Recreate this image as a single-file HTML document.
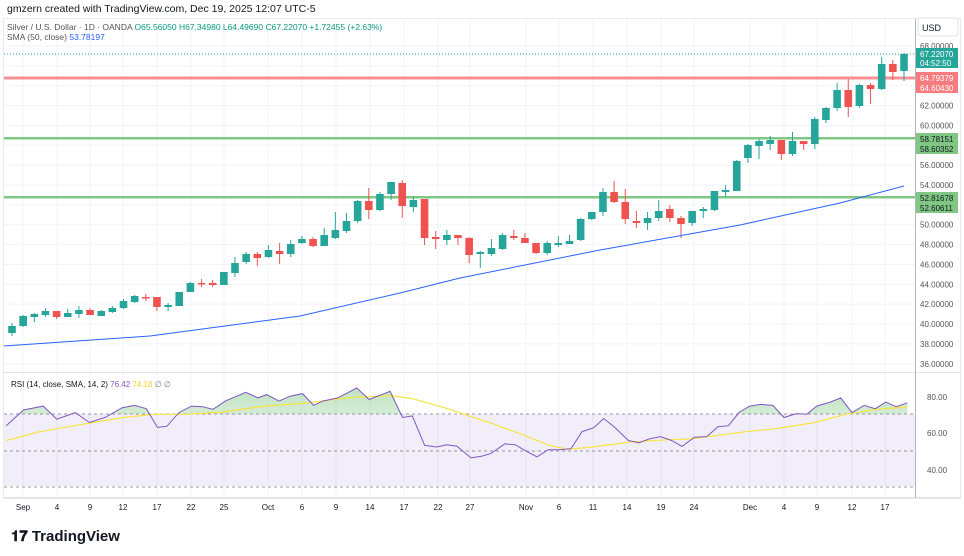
<!DOCTYPE html>
<html><head><meta charset="utf-8">
<style>
body{margin:0;background:#fff;width:964px;height:556px;overflow:hidden;font-family:"Liberation Sans",sans-serif;}
svg{position:absolute;left:0;top:0}
.t{font-family:"Liberation Sans",sans-serif}
</style></head><body>
<svg id="s" width="964" height="556" viewBox="0 0 964 556" xmlns="http://www.w3.org/2000/svg">
<rect x="0" y="0" width="964" height="556" fill="#fff"/>
<text x="7" y="12" font-size="10.5" fill="#131722" class="t">gmzern created with TradingView.com, Dec 19, 2025 12:07 UTC-5</text>
<rect x="3.5" y="18.5" width="957" height="480" fill="none" stroke="#e8eaef"/>
<g id="grid"></g>
<rect x="4" y="414" width="911" height="72" fill="#7e57c2" fill-opacity="0.1"/>
<g stroke="#9598a1" stroke-dasharray="3,3" stroke-width="1">
<line x1="4" x2="915" y1="414" y2="414"/><line x1="4" x2="915" y1="451" y2="451"/><line x1="4" x2="915" y1="487" y2="487"/>
</g>
<line x1="4" x2="961" y1="372.5" y2="372.5" stroke="#e0e3eb"/>
<line x1="4" x2="961" y1="497.5" y2="497.5" stroke="#e0e3eb"/>
<line x1="915.5" x2="915.5" y1="19" y2="498" stroke="#b2b5be"/>
<line x1="4" x2="915" y1="54" y2="54" stroke="#26a69a" stroke-dasharray="1,2"/>
<rect x="4" y="76.5" width="911" height="3" fill="#f77c80" fill-opacity="0.85"/>
<rect x="4" y="137" width="911" height="2.5" fill="#81c784"/>
<rect x="4" y="196" width="911" height="2.5" fill="#81c784"/>
<g id="c"></g>
<defs>
<linearGradient id="gg" x1="0" y1="0" x2="0" y2="1"><stop offset="0" stop-color="#4caf50" stop-opacity="0.35"/><stop offset="1" stop-color="#4caf50" stop-opacity="0.05"/></linearGradient>
<clipPath id="cp"><rect x="0" y="370" width="915" height="44"/></clipPath>
</defs>
<g id="r"></g>
<text x="11" y="387" font-size="8" fill="#131722" class="t">RSI (14, close, SMA, 14, 2) <tspan fill="#7e57c2">76.42</tspan> <tspan fill="#f2d41a">74.18</tspan> <tspan fill="#787b86">∅ ∅</tspan></text>
<text x="7" y="30" font-size="8.5" fill="#555" class="t">Silver / U.S. Dollar · 1D · OANDA <tspan fill="#089981">O65.56050 H67.34980 L64.49690 C67.22070 +1.72455 (+2.63%)</tspan></text>
<text x="7" y="40" font-size="8.5" fill="#555" class="t">SMA (50, close) <tspan fill="#2962ff">53.78197</tspan></text>
<rect x="918" y="18" width="40" height="18" rx="3" fill="#fff" stroke="#e0e3eb"/>
<text x="922" y="31" font-size="9" fill="#131722" class="t">USD</text>
<g id="ax" font-size="8" fill="#555" class="t"></g>
<rect x="916" y="48" width="42" height="20" fill="#26a69a"/>
<text x="920" y="57" font-size="8" fill="#fff" class="t">67.22070</text>
<text x="920" y="66" font-size="8" fill="#fff" class="t">04:52:50</text>
<rect x="916" y="72" width="42" height="21" fill="#f77c80"/>
<text x="920" y="81" font-size="8" fill="#fff" class="t">64.79379</text>
<text x="920" y="91" font-size="8" fill="#fff" class="t">64.60430</text>
<rect x="916" y="133" width="42" height="21" fill="#81c784"/>
<text x="920" y="142" font-size="8" fill="#131722" class="t">58.78151</text>
<text x="920" y="152" font-size="8" fill="#131722" class="t">58.60352</text>
<rect x="916" y="192" width="42" height="21" fill="#81c784"/>
<text x="920" y="201" font-size="8" fill="#131722" class="t">52.81678</text>
<text x="920" y="211" font-size="8" fill="#131722" class="t">52.60611</text>
<text x="927" y="400" font-size="8" fill="#555" class="t">80.00</text>
<text x="927" y="436" font-size="8" fill="#555" class="t">60.00</text>
<text x="927" y="473" font-size="8" fill="#555" class="t">40.00</text>
<g id="dl" font-size="8" fill="#131722" class="t" text-anchor="middle"></g>
<text x="11" y="541" font-size="15" font-weight="bold" fill="#131722" class="t">𝟏𝟕 TradingView</text>
</svg>
<script>
const NS="http://www.w3.org/2000/svg";
function el(p,t,a){const e=document.createElementNS(NS,t);for(const k in a)e.setAttribute(k,a[k]);p.appendChild(e);return e;}
const s=document.getElementById('s');
const grid=document.getElementById('grid'),ax=document.getElementById('ax');
const yp=p=>46+(68-p)*9.93;
for(let p=36;p<=68;p+=2){const y=yp(p);el(grid,'line',{x1:4,x2:915,y1:y,y2:y,stroke:'#f0f3fa'});
 if([66,64,58,52].indexOf(p)<0){const t=el(ax,'text',{x:920,y:y+3});t.textContent=p.toFixed(5);}}
const dates=[["Sep",23],["4",57],["9",90],["12",123],["17",157],["22",191],["25",224],["Oct",268],["6",302],["9",336],["14",370],["17",404],["22",438],["27",470],["Nov",526],["6",559],["11",593],["14",627],["19",661],["24",694],["Dec",750],["4",784],["9",817],["12",852],["17",885]];
const dl=document.getElementById('dl');
dates.forEach(d=>{el(grid,'line',{x1:d[1],x2:d[1],y1:19,y2:497,stroke:'#f0f3fa'});const t=el(dl,'text',{x:d[1],y:510});t.textContent=d[0];});
// candles: color, bodyTop, bodyBot, wickTop, wickBot
const C=[
"G326 333 323 336","G316 326 315 327","G314 317 313 322","G311 315 308 317","R311 317 311 319","G313 317 309 317","G310 314 306 318","R310 315 308 315","G311 316 310 316","G308 312 306 313",
"G301 308 299 309","G296 302 295 303","R297 298 294 301","R297 307 297 311","G305 307 303 311","G292 306 292 306","G283 292 282 292","R283 284 279 287","R283 285 280 287","G272 285 272 285",
"G263 273 257 277","G254 262 252 264","R254 258 252 266","G250 257 245 258","R251 254 243 264","G244 254 240 257","G239 243 236 244","R239 246 237 247","G235 246 228 246","G230 238 212 239",
"G221 231 213 233","G201 221 200 223","R201 210 188 219","G194 210 192 211","G182 194 182 200","R183 206 180 218","G200 207 197 212","R199 238 199 245","R237 239 231 249","G235 240 230 245",
"R235 238 235 245","R238 255 237 263","G252 254 251 268","G248 254 239 256","G235 249 233 250","R236 238 230 240","R238 243 233 243","R243 253 243 254","G243 253 241 255","G243 245 236 247",
"G241 244 235 244","G219 240 218 241","G212 219 212 220","G192 212 188 216","R192 202 181 203","R202 219 189 224","R221 223 211 228","G218 223 212 230","G211 218 200 221","R209 218 205 222",
"R218 224 216 238","G211 223 211 226","G209 211 207 218","G191 210 191 211","G190 192 185 197","G161 191 160 191","G145 158 144 163","G141 146 139 159","G140 144 136 150","R140 154 140 160",
"G141 154 132 156","R141 144 141 150","G119 144 117 149","G108 120 107 123","G90 108 83 111","R90 107 79 117","G85 106 84 108","R85 89 83 104","G64 89 57 90","R64 72 60 80","G54 71 53 81"];
const cg=document.getElementById('c');
C.forEach((c,i)=>{const col=c[0]=='G'?'#26a69a':'#ef5350';const v=c.slice(1).split(' ').map(Number);const x=12+i*11.15;
 el(cg,'line',{x1:x,x2:x,y1:v[2],y2:v[3],stroke:col,'stroke-width':1});
 el(cg,'rect',{x:x-3.8,y:v[0],width:7.6,height:Math.max(1.5,v[1]-v[0]),fill:col});});
el(cg,'polyline',{points:"4,346 150,336 300,316 400,293 460,278 600,250 740,225 840,203 904,186",fill:'none',stroke:'#2962ff','stroke-width':1});
// RSI
const R=[[10,170],[38,122],[70,110],[92,150],[122,130],[145,160],[170,145],[198,115],[218,108],[237,118],[255,175],[270,172],[290,130],[310,110],[328,112],[345,120],[365,95],[398,68],[418,85],[432,75],[452,95],[470,80],[490,72],[508,108],[523,95],[547,85],[578,55],[598,90],[632,65],[652,145],[668,140],[688,230],[708,235],[723,228],[740,232],[763,268],[780,263],[795,255],[818,225],[835,228],[850,245],[870,265],[888,243],[905,243],[925,240],[943,188],[962,176],[978,148],[996,175],[1018,215],[1035,222],[1052,210],[1070,203],[1088,215],[1105,233],[1125,205],[1145,203],[1163,173],[1180,170],[1198,128],[1215,110],[1232,105],[1252,108],[1270,145],[1290,133],[1307,135],[1323,110],[1345,98],[1362,85],[1380,130],[1400,108],[1418,118],[1435,98],[1452,112],[1470,100]];
const Y=[[10,215],[60,190],[120,170],[200,145],[250,135],[300,135],[360,128],[430,110],[500,100],[560,85],[635,78],[670,88],[720,115],[800,165],[850,200],[890,230],[920,242],[960,235],[1020,220],[1080,213],[1120,210],[1200,190],[1260,178],[1320,160],[1370,135],[1420,120],[1470,113]];
const tr=a=>a.map(p=>[(p[0]/1.62).toFixed(1),(370+p[1]/3.05).toFixed(1)]);
const rp=tr(R),yp2=tr(Y);
const rg=document.getElementById('r');
const poly=rp.map(p=>p.join(',')).join(' ');
el(rg,'polygon',{points:rp[0][0]+',414 '+poly+' '+rp[rp.length-1][0]+',414',fill:'url(#gg)','clip-path':'url(#cp)'});
el(rg,'polyline',{points:yp2.map(p=>p.join(',')).join(' '),fill:'none',stroke:'#f7e442','stroke-width':1.2});
el(rg,'polyline',{points:poly,fill:'none',stroke:'#7e57c2','stroke-width':1});
</script>
</body></html>
